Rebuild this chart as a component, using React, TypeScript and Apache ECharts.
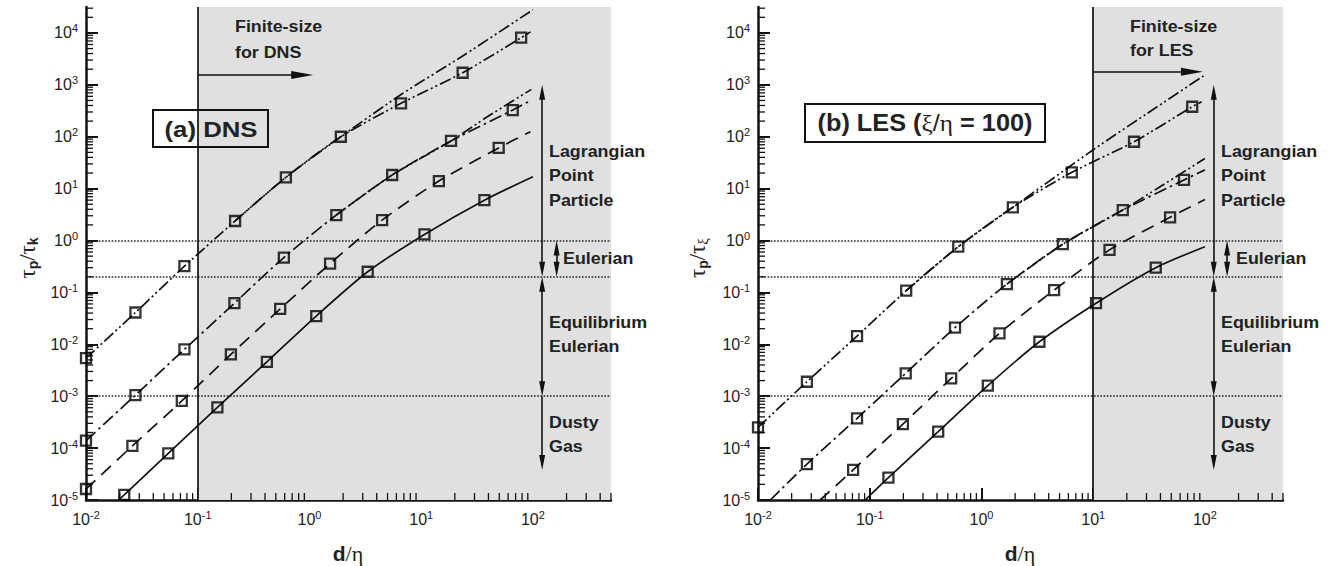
import React, { useEffect, useRef } from "react";
import * as echarts from "echarts";

// ---------------- Panel (a) DNS ----------------
// group 1 (dash-dot-dot)
const aSqX1 = [0.01, 0.0277, 0.076, 0.216, 0.615, 1.91, 6.6, 23.5, 78.5];
const aSqY1 = [5.4e-3, 0.041, 0.32, 2.38, 16.5, 100, 440, 1710, 8090];
const aLnX1 = [0.01, 0.0277, 0.076, 0.216, 0.615, 1.91, 6.6, 23.5, 78.5, 95];
const aLnY1 = [5.4e-3, 0.041, 0.32, 2.38, 16.5, 100, 440, 1710, 8090, 10500];
const aUpX1 = [0.216, 0.615, 1.91, 6.6, 23.5, 100];
const aUpY1 = [2.38, 16.5, 100, 650, 3600, 28000];
// group 2 (dash-dot)
const aSqX2 = [0.01, 0.0277, 0.076, 0.213, 0.59, 1.74, 5.5, 18.5, 66];
const aSqY2 = [1.39e-4, 1.05e-3, 8.0e-3, 0.062, 0.47, 3.1, 18.3, 83, 327];
const aLnX2 = [0.01, 0.0277, 0.076, 0.213, 0.59, 1.74, 5.5, 18.5, 66, 97];
const aLnY2 = [1.39e-4, 1.05e-3, 8.0e-3, 0.062, 0.47, 3.1, 18.3, 83, 327, 509];
const aUpX2 = [1.74, 5.5, 18.5, 40, 97];
const aUpY2 = [3.1, 18.3, 83, 250, 818];
// group 3 (dashed)
const aSqX3 = [0.01, 0.026, 0.072, 0.198, 0.547, 1.53, 4.47, 14.4, 49.4];
const aSqY3 = [1.63e-5, 1.1e-4, 8.1e-4, 6.4e-3, 0.048, 0.36, 2.48, 14, 61];
const aLnX3 = [0.01, 0.026, 0.072, 0.198, 0.547, 1.53, 4.47, 14.4, 49.4, 95];
const aLnY3 = [1.63e-5, 1.1e-4, 8.1e-4, 6.4e-3, 0.048, 0.36, 2.48, 14, 61, 125];
// group 4 (solid)
const aSqX4 = [0.022, 0.0545, 0.15, 0.416, 1.15, 3.32, 10.7, 36.8];
const aSqY4 = [1.25e-5, 7.9e-5, 6.1e-4, 4.6e-3, 0.035, 0.25, 1.31, 6.0];
const aLnX4 = [0.0195, 0.022, 0.0545, 0.15, 0.416, 1.15, 3.32, 10.7, 36.8, 100];
const aLnY4 = [1e-5, 1.25e-5, 7.9e-5, 6.1e-4, 4.6e-3, 0.035, 0.25, 1.31, 6.0, 17];

// ---------------- Panel (b) LES ----------------
const bSqX1 = [0.01, 0.0274, 0.077, 0.212, 0.62, 1.91, 6.44, 23.2, 77];
const bSqY1 = [2.5e-4, 1.9e-3, 0.0144, 0.108, 0.76, 4.37, 20.6, 80, 378];
const bLnX1 = [0.01, 0.0274, 0.077, 0.212, 0.62, 1.91, 6.44, 23.2, 77, 93.5];
const bLnY1 = [2.5e-4, 1.9e-3, 0.0144, 0.108, 0.76, 4.37, 20.6, 80, 378, 472];
const bUpX1 = [0.212, 0.62, 1.91, 10, 30, 100];
const bUpY1 = [0.108, 0.76, 4.37, 56, 275, 1550];

const bSqX2 = [0.0274, 0.077, 0.21, 0.58, 1.69, 5.35, 18.4, 65];
const bSqY2 = [4.9e-5, 3.75e-4, 2.76e-3, 0.021, 0.145, 0.85, 3.87, 14.7];
const bLnX2 = [0.0129, 0.0274, 0.077, 0.21, 0.58, 1.69, 5.35, 18.4, 65, 100];
const bLnY2 = [1e-5, 4.9e-5, 3.75e-4, 2.76e-3, 0.021, 0.145, 0.85, 3.87, 14.7, 23];
const bUpX2 = [1.69, 5.35, 18.4, 40, 100];
const bUpY2 = [0.145, 0.85, 3.87, 11, 38];

const bSqX3 = [0.071, 0.198, 0.536, 1.45, 4.47, 14, 48.8];
const bSqY3 = [3.8e-5, 2.9e-4, 2.2e-3, 0.0163, 0.111, 0.66, 2.8];
const bLnX3 = [0.036, 0.071, 0.198, 0.536, 1.45, 4.47, 14, 48.8, 100];
const bLnY3 = [1e-5, 3.8e-5, 2.9e-4, 2.2e-3, 0.0163, 0.111, 0.66, 2.8, 6.2];

const bSqX4 = [0.147, 0.41, 1.14, 3.3, 10.6, 36.3];
const bSqY4 = [2.7e-5, 2.07e-4, 1.6e-3, 0.0112, 0.062, 0.3];
const bLnX4 = [0.091, 0.147, 0.41, 1.14, 3.3, 10.6, 36.3, 100];
const bLnY4 = [1e-5, 2.7e-5, 2.07e-4, 1.6e-3, 0.0112, 0.062, 0.3, 0.76];

// axis settings (decades)
const X_MIN = 0.01;
const X_MAX = 500;
const Y_MIN = 1e-5;
const Y_MAX = Math.pow(10, 4.5);
const xDecades = [-2, -1, 0, 1, 2];
const yDecades = [-5, -4, -3, -2, -1, 0, 1, 2, 3, 4];
const regimeLines = [1, 0.2, 1e-3];

const L = Math.log10;
const SANS = "'Liberation Sans', Arial, Helvetica, sans-serif";
const SERIF = "'Liberation Serif', 'DejaVu Serif', serif";
const INK = "#111";
const TICK = "#111";

const DASH_DOT_DOT = [12, 3, 2, 3, 2, 3];
const DASH_DOT = [13, 4, 2.5, 4];
const DASHED = [13, 8];

const GRID_H = 493;
const PX_PER_DEC_Y = GRID_H / 9.5;
const PX_PER_DEC_X = 111.7;

function pts(xs: number[], ys: number[]) {
  return xs.map((x, i) => [L(x), L(ys[i])]);
}
function minor(decades: number[], maxLog: number) {
  const out: number[] = [];
  decades.forEach((d) => {
    for (let m = 2; m <= 9; m++) {
      const v = d + L(m);
      if (v <= maxLog + 1e-9) out.push(v);
    }
  });
  return out;
}

const labelRich = {
  b: { fontSize: 16, fontFamily: SANS, color: "#222", lineHeight: 20 },
  s: { fontSize: 11, fontFamily: SANS, color: "#222", lineHeight: 15, verticalAlign: "top" },
};
const powLabel = (v: number) => `{b|10}{s|${Math.round(v)}}`;

function axesFor(g: number) {
  const xMain = {
    type: "value", gridIndex: g, min: L(X_MIN), max: L(X_MAX), position: "bottom",
    axisLine: { show: true, onZero: false, lineStyle: { color: INK, width: 2.5 } },
    axisTick: { show: true, inside: true, length: 12, customValues: xDecades, lineStyle: { color: TICK, width: 2 } },
    axisLabel: { show: true, customValues: xDecades, formatter: powLabel, rich: labelRich, margin: 9 },
    splitLine: { show: false },
  };
  const yMain = {
    type: "value", gridIndex: g, min: L(Y_MIN), max: L(Y_MAX), position: "left",
    axisLine: { show: true, onZero: false, lineStyle: { color: INK, width: 2.5 } },
    axisTick: { show: true, inside: true, length: 12, customValues: yDecades, lineStyle: { color: TICK, width: 2 } },
    axisLabel: { show: true, customValues: yDecades, formatter: powLabel, rich: labelRich, margin: 8 },
    splitLine: { show: false },
  };
  return { x: xMain, y: yMain };
}

// minor ticks: custom series placed through the axes' scales
function minorTickSeries(g: number, vertical: boolean) {
  const data = vertical
    ? minor(yDecades, L(Y_MAX)).map((v) => [L(X_MIN), v])
    : minor(xDecades, L(X_MAX)).map((v) => [v, L(Y_MIN)]);
  return {
    type: "custom", xAxisIndex: g, yAxisIndex: g, clip: false, z: 20, silent: true,
    data,
    renderItem: (_p: any, api: any) => {
      const p = api.coord([api.value(0), api.value(1)]);
      return {
        type: "line",
        shape: vertical
          ? { x1: p[0], y1: p[1], x2: p[0] + 7, y2: p[1] }
          : { x1: p[0], y1: p[1], x2: p[0], y2: p[1] - 7 },
        style: { stroke: TICK, lineWidth: 1.3 },
      };
    },
  };
}

function line(g: number, data: number[][], type: any, extra: any = {}) {
  return {
    type: "line", xAxisIndex: g, yAxisIndex: g, data, symbol: "none", smooth: 0.25,
    silent: true, z: 3, lineStyle: { color: INK, width: 1.7, type, cap: "butt" }, ...extra,
  };
}
function squares(g: number, data: number[][]) {
  return {
    type: "scatter", xAxisIndex: g, yAxisIndex: g, data, symbol: "rect", symbolSize: 10,
    silent: true, z: 4, itemStyle: { color: "rgba(0,0,0,0)", borderColor: "#000", borderWidth: 2.3 },
  };
}

const HEAD = [6, 15];
const headY = HEAD[1] / 2 / PX_PER_DEC_Y;
function vArrow(x: number, yFrom: number, yTo: number, headFrom: boolean, headTo: boolean) {
  const y1 = headFrom ? yFrom + headY : yFrom;
  const y2 = headTo ? yTo - headY : yTo;
  return [
    { coord: [x, y1], symbol: headFrom ? "triangle" : "none", symbolSize: HEAD },
    { coord: [x, y2], symbol: headTo ? "triangle" : "none", symbolSize: HEAD },
  ];
}
function hArrow(x1: number, x2: number, y: number) {
  const size = [8, 22];
  return [
    { coord: [x1, y], symbol: "none" },
    { coord: [x2 - size[1] / 2 / PX_PER_DEC_X, y], symbol: "triangle", symbolSize: size },
  ];
}

function markers(finiteX: number, arrowEnd: number, arrowY: number, lagX: number, eulX: number) {
  const dotted = { color: "#222", width: 1.6, type: [1.6, 1.6] };
  return {
    markArea: {
      silent: true,
      itemStyle: { color: "#e0e0e0" },
      data: [[{ xAxis: L(finiteX) }, { xAxis: L(X_MAX) }]],
    },
    markLine: {
      silent: true, symbol: ["none", "none"], label: { show: false }, animation: false,
      lineStyle: { color: INK, width: 1.6, type: "solid" },
      data: [
        ...regimeLines.map((v) => ({ yAxis: L(v), lineStyle: dotted })),
        { xAxis: L(finiteX), lineStyle: { color: INK, width: 1.7, type: "solid" } },
        hArrow(L(finiteX), L(arrowEnd), L(arrowY)),
        vArrow(L(lagX), L(0.2), L(1000), true, true),
        vArrow(L(eulX), L(0.2), L(1), true, true),
        vArrow(L(lagX), L(1e-3), L(0.2), true, true),
        vArrow(L(lagX), L(3.8e-5), L(1e-3), true, false),
      ],
    },
  };
}

function txt(x: number, y: number, text: string, size: number) {
  return {
    type: "text", x, y, z: 20, silent: true, scaleX: 1.05,
    style: {
      text, font: `bold ${size}px ${SANS}`, fill: "#222",
      align: "left", verticalAlign: "middle", textAlign: "left", textVerticalAlign: "middle",
    },
  };
}

function regimeTexts(dx: number, eulDx: number) {
  return [
    txt(549 + dx, 151, "Lagrangian", 17),
    txt(549 + dx, 175, "Point", 17),
    txt(549 + dx, 200, "Particle", 17),
    txt(563 + eulDx, 258, "Eulerian", 17),
    txt(549 + dx, 322, "Equilibrium", 17),
    txt(549 + dx, 346, "Eulerian", 17),
    txt(549 + dx, 422, "Dusty", 17),
    txt(549 + dx, 446, "Gas", 17),
  ];
}

function yTitle(x: number, sub2: string, sub2Style: string) {
  return {
    type: "text", x, y: 258, rotation: Math.PI / 2, z: 20, silent: true,
    style: {
      text: `{t|τ}{s|p}{t|/τ}{${sub2Style}|${sub2}}`,
      align: "center", verticalAlign: "middle", textAlign: "center", textVerticalAlign: "middle",
      rich: {
        t: { fontSize: 23, fontFamily: SERIF, fill: "#222", color: "#222", lineHeight: 26 },
        s: { fontSize: 14, fontFamily: SANS, fontWeight: "bold", fill: "#222", color: "#222", lineHeight: 14, verticalAlign: "bottom" },
        g: { fontSize: 15, fontFamily: SERIF, fill: "#222", color: "#222", lineHeight: 14, verticalAlign: "bottom" },
      },
    },
  };
}
function xTitle(x: number) {
  return {
    type: "text", x, y: 553, z: 20, silent: true,
    style: {
      text: "{d|d}{e|/η}",
      align: "center", verticalAlign: "middle", textAlign: "center", textVerticalAlign: "middle",
      rich: {
        d: { fontSize: 21, fontFamily: SANS, fontWeight: "bold", fill: "#222", color: "#222" },
        e: { fontSize: 22, fontFamily: SERIF, fill: "#222", color: "#222" },
      },
    },
  };
}

function graphics() {
  return [
    txt(235, 26, "Finite-size", 17),
    txt(235, 52, "for DNS", 17),
    { type: "rect", z: 20, silent: true, shape: { x: 153, y: 110, width: 115, height: 37 }, style: { fill: "none", stroke: INK, lineWidth: 2 } },
    {
      type: "text", x: 211, y: 129, z: 20, silent: true, scaleX: 1.12,
      style: { text: "(a) DNS", font: `bold 23px ${SANS}`, fill: "#222", align: "center", verticalAlign: "middle", textAlign: "center", textVerticalAlign: "middle" },
    },
    ...regimeTexts(0, 0),
    yTitle(27, "k", "s"),
    xTitle(348),
    txt(1130, 26, "Finite-size", 17),
    txt(1130, 50, "for LES", 17),
    { type: "rect", z: 20, silent: true, shape: { x: 805, y: 104, width: 240, height: 38 }, style: { fill: "none", stroke: INK, lineWidth: 2 } },
    {
      type: "text", x: 925, y: 123, z: 20, silent: true, scaleX: 1.1,
      style: {
        text: "{b|(b) LES (}{g|ξ}{c|/}{g|η}{b| = 100)}",
        align: "center", verticalAlign: "middle", textAlign: "center", textVerticalAlign: "middle",
        rich: {
          b: { fontSize: 23, fontFamily: SANS, fontWeight: "bold", color: "#222", fill: "#222" },
          c: { fontSize: 23, fontFamily: SANS, color: "#222", fill: "#222" },
          g: { fontSize: 23, fontFamily: SERIF, color: "#222", fill: "#222" },
        },
      },
    },
    ...regimeTexts(672, 673),
    yTitle(697, "ξ", "g"),
    xTitle(1020),
  ];
}

function buildOption() {
  const a = axesFor(0);
  const b = axesFor(1);
  const series: any[] = [
    line(0, pts(aLnX4, aLnY4), "solid", markers(0.1, 1.08, 1550, 121, 163)),
    line(0, pts(aLnX3, aLnY3), DASHED),
    line(0, pts(aLnX2, aLnY2), DASH_DOT),
    line(0, pts(aUpX2, aUpY2), DASH_DOT_DOT),
    line(0, pts(aLnX1, aLnY1), DASH_DOT_DOT),
    line(0, pts(aUpX1, aUpY1), DASH_DOT_DOT),
    squares(0, pts(aSqX1, aSqY1)),
    squares(0, pts(aSqX2, aSqY2)),
    squares(0, pts(aSqX3, aSqY3)),
    squares(0, pts(aSqX4, aSqY4)),
    minorTickSeries(0, false),
    minorTickSeries(0, true),
    line(1, pts(bLnX4, bLnY4), "solid", markers(10, 96, 1780, 120, 158)),
    line(1, pts(bLnX3, bLnY3), DASHED),
    line(1, pts(bLnX2, bLnY2), DASH_DOT),
    line(1, pts(bUpX2, bUpY2), DASH_DOT_DOT),
    line(1, pts(bLnX1, bLnY1), DASH_DOT_DOT),
    line(1, pts(bUpX1, bUpY1), DASH_DOT_DOT),
    squares(1, pts(bSqX1, bSqY1)),
    squares(1, pts(bSqX2, bSqY2)),
    squares(1, pts(bSqX3, bSqY3)),
    squares(1, pts(bSqX4, bSqY4)),
    minorTickSeries(1, false),
    minorTickSeries(1, true),
  ];

  return {
    animation: false,
    backgroundColor: "#fff",
    grid: [
      { left: 86, top: 7, width: 525, height: GRID_H },
      { left: 758, top: 7, width: 525, height: GRID_H },
    ],
    xAxis: [a.x, b.x],
    yAxis: [a.y, b.y],
    series,
    graphic: graphics(),
  };
}

export default function App() {
  const ref = useRef<HTMLDivElement>(null);
  useEffect(() => {
    if (!ref.current) return;
    const chart = echarts.init(ref.current, undefined, { renderer: "svg" });
    chart.setOption(buildOption() as any);
    return () => chart.dispose();
  }, []);
  return (
    <div
      ref={ref}
      style={{ position: "fixed", left: 0, top: 0, width: 1335, height: 566, background: "#fff" }}
    />
  );
}
